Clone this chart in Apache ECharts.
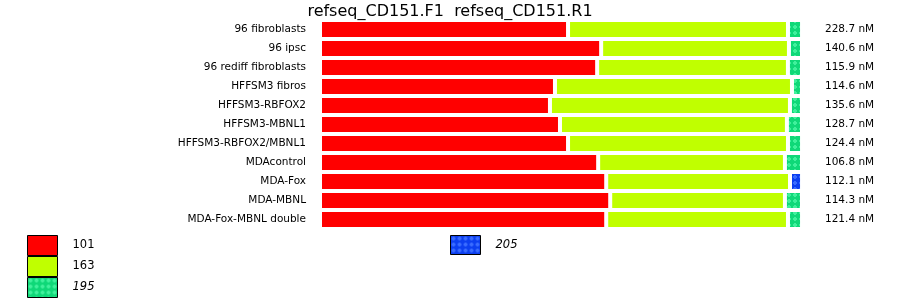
<!DOCTYPE html>
<html>
<head>
<meta charset="utf-8">
<script src="https://cdn.jsdelivr.net/npm/echarts@6/dist/echarts.min.js"></script>
<style>html,body{margin:0;padding:0;background:#fff}#c{width:900px;height:299px}</style>
</head>
<body>
<div id="c"></div>
<script>
const categories = ["96 fibroblasts","96 ipsc","96 rediff fibroblasts","HFFSM3 fibros","HFFSM3-RBFOX2","HFFSM3-MBNL1","HFFSM3-RBFOX2/MBNL1","MDAcontrol","MDA-Fox","MDA-MBNL","MDA-Fox-MBNL double"];
const totals = ["228.7 nM","140.6 nM","115.9 nM","114.6 nM","135.6 nM","128.7 nM","124.4 nM","106.8 nM","112.1 nM","114.3 nM","121.4 nM"];
const s101 = [51.46,58.33,57.5,48.75,47.71,49.79,51.46,57.71,59.38,60.21,59.38];
const s163 = [45.63,38.96,39.58,49.17,49.79,47.08,45.63,38.75,38.13,36.25,37.71];
const s195 = [2.92,2.71,2.92,2.08,2.5,3.13,2.92,3.54,'-',3.54,2.92];
const s205 = ['-','-','-','-','-','-','-','-',2.5,'-','-'];
const seriesNames = ["101","163","195","205"];

function pat(base, light){
  const c=document.createElement('canvas'); c.width=6; c.height=6;
  const g=c.getContext('2d'); g.fillStyle=base; g.fillRect(0,0,6,6);
  g.fillStyle=light; g.fillRect(2,1,2,4); g.fillRect(1,2,4,2);
  return {image:c, repeat:'repeat'};
}
const colors = ['#ff0000','#c0ff00',pat('#0fd878','#40f09c'),pat('#0c3ff0','#3a6cff')];
const font = 'DejaVu Sans';
const chart = echarts.init(document.getElementById('c'), null, {renderer:'canvas'});
const mk = (name, data, color) => ({
  name, type:'bar', stack:'t', data, barWidth:19, animation:false,
  itemStyle:{color, borderColor:'#fff', borderWidth:2}
});
chart.setOption({
  animation:false,
  title:{text:'refseq_CD151.F1  refseq_CD151.R1', left:'center', top:-1,
    textStyle:{fontFamily:font,fontSize:16,fontWeight:'normal',color:'#000'}},
  grid:{left:320,right:98,top:20,height:209,containLabel:false},
  xAxis:{type:'value',min:0,max:100,show:false},
  yAxis:[
    {type:'category',data:categories,inverse:true,axisLine:{show:false},axisTick:{show:false},
     axisLabel:{fontFamily:font,fontSize:10.5,color:'#000',margin:14}},
    {type:'category',data:totals,inverse:true,position:'right',axisLine:{show:false},axisTick:{show:false},
     axisLabel:{fontFamily:font,fontSize:10.5,color:'#000',margin:23,align:'left'}}
  ],
  legend:[
    {data:[{name:'101'},{name:'163'},{name:'195',textStyle:{fontStyle:'italic'}}],
     orient:'vertical',left:27,top:235,itemWidth:30,itemHeight:20,itemGap:0,icon:'rect',
     selectedMode:false,padding:0,
     itemStyle:{borderColor:'#000',borderWidth:1},
     textStyle:{fontFamily:font,fontSize:11.5,color:'#000',padding:[0,0,0,10]}},
    {data:[{name:'205',textStyle:{fontStyle:'italic'}}],
     left:450,top:235,itemWidth:30,itemHeight:19,icon:'rect',selectedMode:false,padding:0,
     itemStyle:{borderColor:'#000',borderWidth:1},
     textStyle:{fontFamily:font,fontSize:11.5,color:'#000',padding:[0,0,0,10]}}
  ],
  series:[mk(seriesNames[0],s101,colors[0]),mk(seriesNames[1],s163,colors[1]),mk(seriesNames[2],s195,colors[2]),mk(seriesNames[3],s205,colors[3])]
});
</script>
</body>
</html>
